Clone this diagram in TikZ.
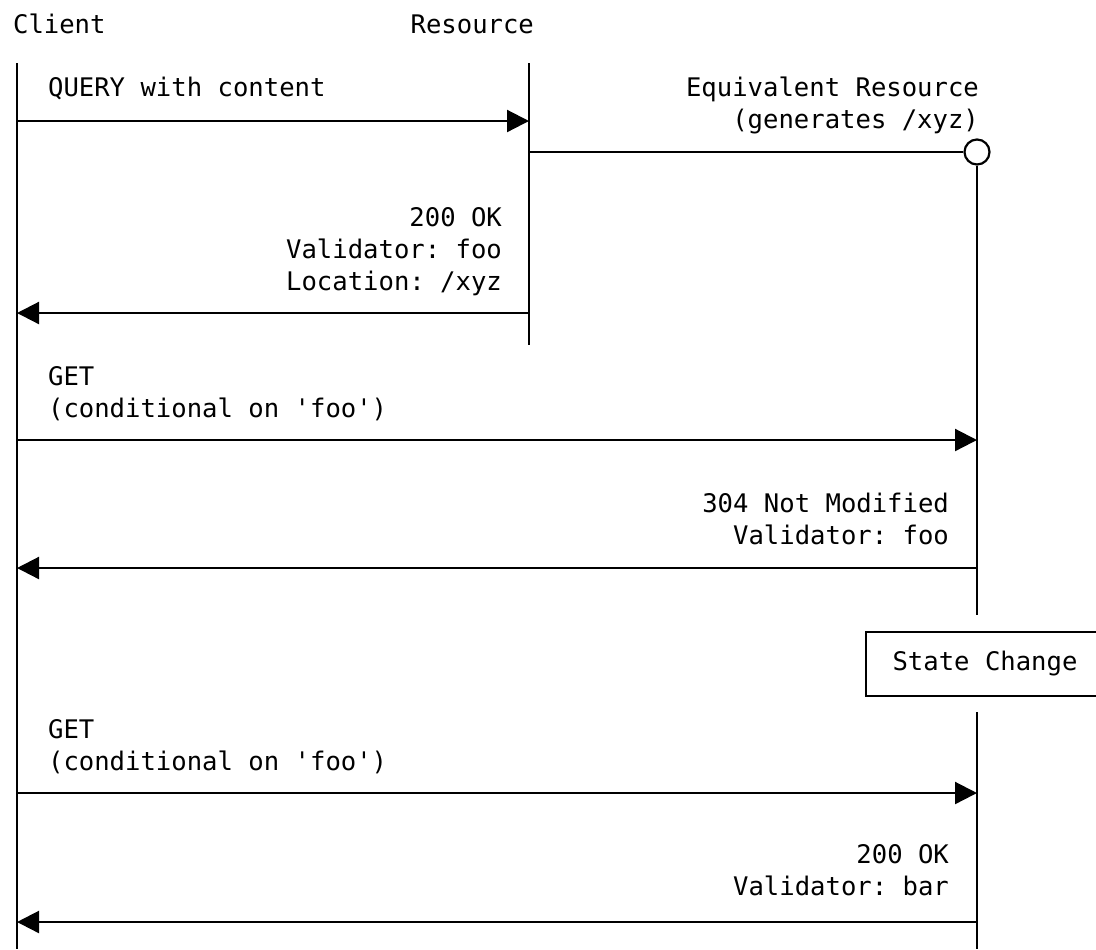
\documentclass[tikz,border=0pt]{standalone}
\usepackage{fontspec}
\setmonofont{DejaVu Sans Mono}
\usetikzlibrary{arrows.meta}
\tikzstyle{msg}=[-{Triangle[length=11pt,width=11pt]}]
\tikzstyle{lbl}=[inner sep=0pt,font=\ttfamily\fontsize{12.8}{16}\selectfont]
\tikzset{every picture/.style={
    line width=1.1pt
  }
}

\begin{document}
\begin{tikzpicture}[x=0.5pt,y=-0.5pt]
      \useasboundingbox (0,0) rectangle (1096,949);
      % participants
      \node[lbl,anchor=base west] at (12,33) (client) {Client};
      \node[lbl,anchor=base east] at (535,33) (resource) {Resource};
      \node[circle,draw,minimum size=12.5pt,inner sep=0pt] at (977,152) (equiv) {};
      \node[draw,lbl,minimum width=119pt,minimum height=32pt] at (985,664) (state) {State Change};
      \coordinate (ctop) at (17,63);
      \coordinate (cbot) at (17,949);
      \coordinate (rtop) at (529,63);
      \coordinate (rbot) at (529,345);
      \coordinate (ebrk) at (977,615);
      \coordinate (etop) at (977,712);
      \coordinate (ebot) at (977,949);
      \draw (ctop) -- (cbot);
      \draw (rtop) -- (rbot);
      \draw (equiv) -- (ebrk);
      \draw (etop) -- (ebot);
      % messages
      \coordinate (m1) at (17,121);
      \coordinate (m2) at (17,152);
      \coordinate (m3) at (17,313);
      \coordinate (m4) at (17,440);
      \coordinate (m5) at (17,568);
      \coordinate (m6) at (17,793);
      \coordinate (m7) at (17,922);
      \node[lbl,anchor=base west] at (47,96) (query) {QUERY with content};
      \draw[msg] (m1) -- (m1 -| rtop);
      \node[lbl,anchor=base east,align=right] at (980,128) (equivlbl) {Equivalent Resource\\(generates /xyz)};
      \draw (m2 -| rtop) -- (equiv);
      \node[lbl,anchor=base east,align=right] at (503,290) (ok1) {200 OK\\Validator: foo\\Location: /xyz};
      \draw[msg] (m3 -| rtop) -- (m3);
      \node[lbl,anchor=base west,align=left] at (47,417) (get1) {GET\\(conditional on 'foo')};
      \draw[msg] (m4) -- (m4 -| equiv);
      \node[lbl,anchor=base east,align=right] at (950,544) (notmod) {304 Not Modified\\Validator: foo};
      \draw[msg] (m5 -| equiv) -- (m5);
      \node[lbl,anchor=base west,align=left] at (47,770) (get2) {GET\\(conditional on 'foo')};
      \draw[msg] (m6) -- (m6 -| equiv);
      \node[lbl,anchor=base east,align=right] at (950,895) (ok2) {200 OK\\Validator: bar};
      \draw[msg] (m7 -| equiv) -- (m7);
    \end{tikzpicture}
\end{document}
